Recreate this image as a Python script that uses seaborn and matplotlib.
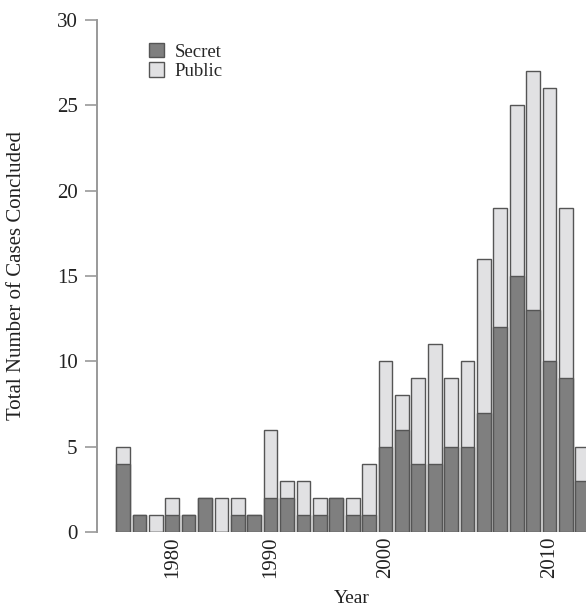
import numpy as np
import pandas as pd
import matplotlib
matplotlib.use("Agg")
import matplotlib.pyplot as plt
from matplotlib.patches import Patch
import seaborn as sns

# years with at least one concluded case (categorical axis, gaps are not shown)
years = [1977, 1978, 1979, 1980, 1982, 1984, 1985, 1987, 1988,
         1990, 1991, 1992, 1994, 1995, 1997, 1998,
         2000, 2001, 2002, 2003, 2004, 2005, 2006, 2007, 2008, 2009, 2010, 2011, 2012]
secret = [4, 1, 0, 1, 1, 2, 0, 1, 1,
          2, 2, 1, 1, 2, 1, 1,
          5, 6, 4, 4, 5, 5, 7, 12, 15, 13, 10, 9, 3]
public = [1, 0, 1, 1, 0, 0, 2, 1, 0,
          4, 1, 2, 1, 0, 1, 3,
          5, 2, 5, 7, 4, 5, 9, 7, 10, 14, 16, 10, 2]
labelled_years = [1980, 1990, 2000, 2010]

df = pd.DataFrame({"year": [str(y) for y in years], "secret": secret, "public": public})
df["total"] = df["secret"] + df["public"]

sns.set_style("white")
plt.rcParams["font.family"] = ["Liberation Serif", "DejaVu Serif"]

dark = "#7f7f7f"
light = "#e1e1e3"
edge = "#555555"
axis_grey = "#999999"
txt = "#222222"

fig = plt.figure(figsize=(5.86, 6.10), dpi=100)
ax = fig.add_axes([97 / 586, 1 - 532 / 610, 1 - 97 / 586, 512 / 610])

# stacked bars: total (public on top) drawn first, secret over it
sns.barplot(data=df, x="year", y="total", color=light, saturation=1, width=0.84,
            edgecolor=edge, linewidth=1.0, ax=ax)
sns.barplot(data=df, x="year", y="secret", color=dark, saturation=1, width=0.84,
            edgecolor=edge, linewidth=1.0, ax=ax)

ax.set_xlim(-1.585, 28.23)
ax.set_ylim(0, 30)
ax.set_yticks(range(0, 31, 5))

idx = [years.index(y) for y in labelled_years]
ax.set_xticks(idx)
ax.set_xticklabels([str(y) for y in labelled_years], rotation=90, fontsize=15, color=txt)
ax.tick_params(axis="x", length=0, pad=3)
ax.tick_params(axis="y", left=True, length=9, width=1.2, color=axis_grey,
               labelsize=15, labelcolor=txt, pad=5)

for s in ["top", "right", "bottom"]:
    ax.spines[s].set_visible(False)
ax.spines["left"].set_color(axis_grey)
ax.spines["left"].set_linewidth(1.4)

ax.set_xlabel("Year", fontsize=14, color=txt)
ax.xaxis.set_label_coords((352 - 97) / (586 - 97), -(590 - 532) / 512)
ax.set_ylabel("Total Number of Cases Concluded", fontsize=15, color=txt)
ax.yaxis.set_label_coords(-(97 - 26) / (586 - 97), 0.5)

handles = [Patch(facecolor=dark, edgecolor=edge, label="Secret"),
           Patch(facecolor=light, edgecolor=edge, label="Public")]
ax.legend(handles=handles, loc="upper left", bbox_to_anchor=(0.09, 0.97),
          frameon=False, fontsize=13.5, handlelength=0.8, handleheight=0.8,
          handletextpad=0.6, labelspacing=0.1, borderaxespad=0)

fig.savefig("out.png", dpi=100)
